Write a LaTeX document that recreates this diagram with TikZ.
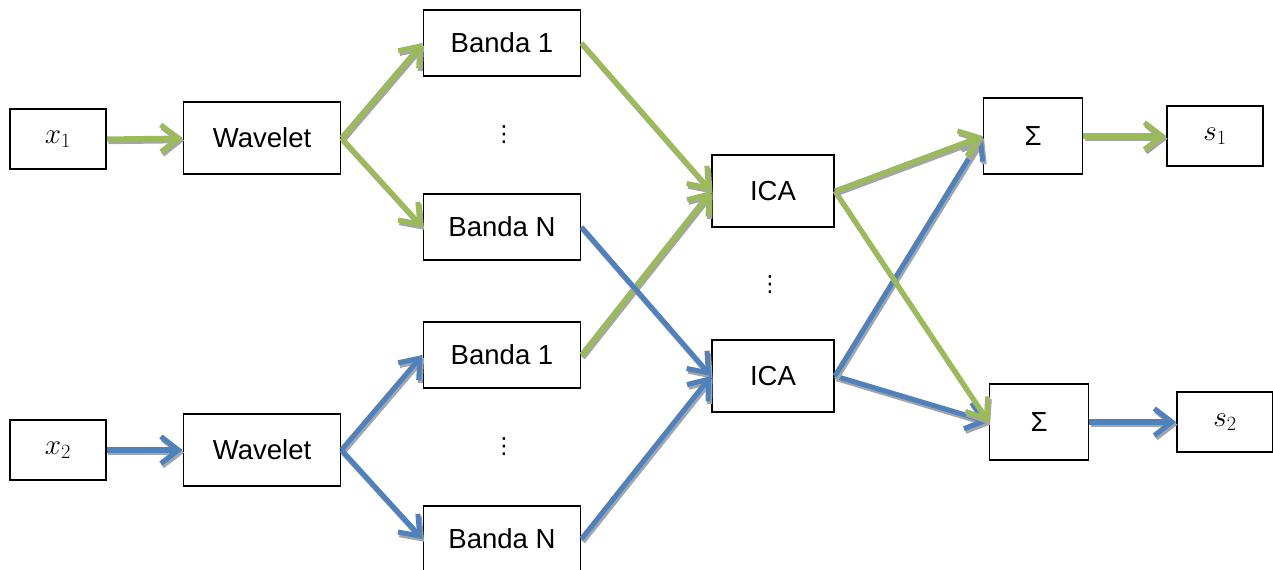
\documentclass[tikz,border=0pt]{standalone}
\usepackage{fontspec}
\setmainfont{Liberation Sans}
\newfontfamily\dotsfont{DejaVu Sans}
\usetikzlibrary{arrows.meta}
\definecolor{flowgreen}{HTML}{9BBB59}
\definecolor{flowblue}{HTML}{4F81BD}
\definecolor{flowshadow}{HTML}{A5A5A5}

% arrow with a grey shadow below it
\newcommand{\flowline}[3]{%
  \begin{scope}[transform canvas={shift={(1.3pt,-2.3pt)}}]
    \draw[flow,draw=flowshadow] (#2) -- (#3);
  \end{scope}
  \draw[flow,draw=#1] (#2) -- (#3);}

\begin{document}
\begin{tikzpicture}[x=0.03cm,y=-0.03cm,
  box/.style={draw,line width=1.6pt,inner sep=0pt,font=\fontsize{23.5}{28}\selectfont},
  iobox/.style={box,minimum width=2.88cm,minimum height=1.82cm,font=\fontsize{25}{30}\selectfont},
  wavebox/.style={box,minimum width=4.71cm,minimum height=2.16cm},
  bandbox/.style={box,minimum width=4.71cm,minimum height=1.98cm},
  icabox/.style={box,minimum width=3.66cm,minimum height=2.16cm},
  sumbox/.style={box,minimum width=2.97cm,minimum height=2.28cm},
  dots/.style={inner sep=0pt,font=\dotsfont\fontsize{19}{22}\selectfont},
  flow/.style={line width=4.3pt,-{Straight Barb[length=15pt,width=23pt]}}]
\useasboundingbox (0,0) rectangle (1273,570);
\clip (0,0) rectangle (1273,570);

% Signal 1
\node[iobox] (xa) at (58,139) {$x_1$};
\node[wavebox] (wava) at (262,138) {Wavelet};
\node[bandbox] (ba1) at (502,43) {Banda 1};
\node[dots] (da) at (504,135) {⋮};
\node[bandbox] (ban) at (502,227) {Banda N};

% Signal 2
\node[iobox] (xb) at (58,450) {$x_2$};
\node[wavebox] (wavb) at (262,450) {Wavelet};
\node[bandbox] (bb1) at (502,355) {Banda 1};
\node[dots] (db) at (504,447) {⋮};
\node[bandbox] (bbn) at (502,539) {Banda N};

% ICA per band
\node[icabox] (icaa) at (773,191) {ICA};
\node[dots] (dc) at (770,285) {⋮};
\node[icabox] (icab) at (773,376) {ICA};

% Sum and outputs
\node[sumbox] (suma) at (1033,136) {Σ};
\node[sumbox] (sumb) at (1039,422) {Σ};
\node[iobox] (sa) at (1215,136) {$s_1$};
\node[iobox] (sb) at (1225,422) {$s_2$};

% Arrows
\flowline{flowgreen}{xa.east}{wava.west}
\flowline{flowgreen}{wava.east}{ba1.west}
\flowline{flowgreen}{wava.east}{ban.west}
\flowline{flowblue}{xb.east}{wavb.west}
\flowline{flowblue}{wavb.east}{bb1.west}
\flowline{flowblue}{wavb.east}{bbn.west}
\flowline{flowgreen}{ba1.east}{icaa.west}
\flowline{flowgreen}{bb1.east}{icaa.west}
\flowline{flowblue}{ban.east}{icab.west}
\flowline{flowblue}{bbn.east}{icab.west}
\flowline{flowblue}{icab.east}{sumb.west}
\flowline{flowblue}{icab.east}{suma.west}
\flowline{flowgreen}{icaa.east}{sumb.west}
\flowline{flowgreen}{icaa.east}{suma.west}
\flowline{flowgreen}{suma.east}{sa.west}
\flowline{flowblue}{sumb.east}{sb.west}
\end{tikzpicture}
\end{document}
